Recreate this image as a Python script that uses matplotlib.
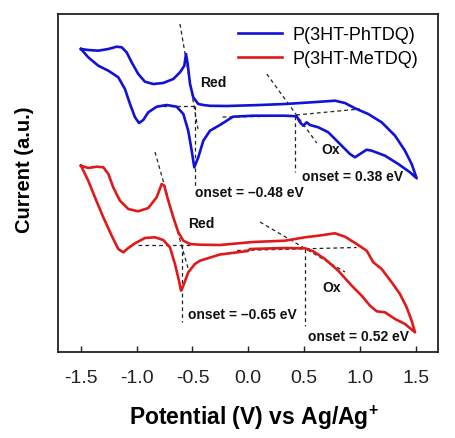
import matplotlib

matplotlib.use("Agg")
import matplotlib.pyplot as plt

plt.rcParams["font.family"] = ["Liberation Sans", "DejaVu Sans"]
plt.rcParams["mathtext.fontset"] = "custom"
plt.rcParams["mathtext.rm"] = "Liberation Sans"
plt.rcParams["mathtext.bf"] = "Liberation Sans:bold"

# P(3HT-PhTDQ): closed CV loop, forward scan then reverse scan
ph_potential = [
    -1.499, -1.434, -1.344, -1.254, -1.179, -1.134, -1.09, -1.045, -0.986, -0.926, -0.851, -0.762,
    -0.672, -0.612, -0.573, -0.558, -0.543, -0.522, -0.493, -0.448, -0.403, -0.343, -0.191, 0.105,
    0.329, 0.568, 0.777, 0.866, 0.956, 1.075, 1.195, 1.315, 1.404, 1.464, 1.509,
    1.449, 1.344, 1.225, 1.106, 1.061, 1.001, 0.956, 0.911, 0.837, 0.717, 0.627, 0.553, 0.523,
    0.493, 0.463, 0.434, 0.329, 0.042, -0.137, -0.254, -0.343, -0.403, -0.448, -0.484, -0.507,
    -0.538, -0.582, -0.642, -0.731, -0.821, -0.896, -0.941, -0.979, -1.015, -1.06, -1.105, -1.165,
    -1.254, -1.344, -1.434, -1.499,
]
ph_current = [
    30.3, 30.2, 30.13, 30.3, 30.53, 30.47, 29.97, 28.97, 27.8, 27.03, 26.8, 26.9,
    27.3, 27.97, 28.63, 29.8, 28.8, 26.8, 25.47, 24.8, 24.7, 24.62, 24.6, 24.7,
    24.8, 24.97, 25.13, 24.9, 24.37, 23.8, 22.97, 21.63, 20.13, 18.8, 17.37,
    17.97, 18.8, 19.63, 20.13, 20.23, 19.8, 19.47, 19.8, 20.63, 21.97, 22.47, 22.7, 22.97,
    22.63, 22.97, 23.57, 23.63, 23.63, 23.53, 22.7, 22.13, 21.13, 19.47, 18.47, 20.13,
    22.13, 23.8, 24.53, 24.7, 24.53, 23.97, 23.2, 22.9, 23.47, 24.8, 26.3, 27.47,
    28.13, 28.63, 29.47, 30.3,
]

# P(3HT-MeTDQ)
me_potential = [
    -1.499, -1.434, -1.358, -1.299, -1.254, -1.21, -1.15, -1.075, -0.986, -0.896, -0.821, -0.776,
    -0.753, -0.717, -0.672, -0.627, -0.582, -0.522, -0.433, -0.254, 0.042, 0.329, 0.508, 0.627,
    0.777, 0.866, 0.971, 1.061, 1.12, 1.195, 1.285, 1.359, 1.419, 1.464, 1.494,
    1.404, 1.315, 1.225, 1.151, 1.091, 1.016, 0.927, 0.806, 0.687, 0.582, 0.508, 0.329, 0.015,
    -0.003, -0.254, -0.433, -0.478, -0.538, -0.582, -0.603, -0.621, -0.657, -0.702, -0.762, -0.836,
    -0.926, -1.015, -1.075, -1.12, -1.165, -1.224, -1.299, -1.374, -1.434, -1.499,
]
me_current = [
    18.63, 18.4, 18.53, 18.47, 17.8, 16.47, 15.13, 14.3, 14.07, 14.4, 15.47, 16.8,
    16.63, 15.13, 13.47, 11.97, 11.13, 10.8, 10.73, 10.7, 11.0, 11.13, 11.47, 11.63,
    11.87, 11.53, 10.8, 10.13, 8.97, 8.3, 6.97, 5.8, 4.47, 3.13, 1.97,
    2.8, 3.3, 3.97, 4.07, 4.63, 5.63, 6.63, 8.13, 9.3, 10.07, 10.37, 10.4, 10.3,
    10.1, 9.75, 9.13, 8.8, 7.97, 6.63, 6.13, 7.13, 8.8, 10.47, 11.2, 11.47,
    11.4, 10.87, 10.4, 9.97, 10.3, 11.63, 13.47, 15.47, 17.13, 18.63,
]

# onset construction lines: (x0, x1), (y0, y1)
ph_guides = [
    ((-0.612, -0.451), (32.8, 22.3)),
    ((-0.83, -0.46), (24.6, 24.6)),
    ((-0.478, -0.478), (24.6, 16.6)),
    ((0.166, 0.614), (27.8, 20.9)),
    ((-0.23, 0.43), (23.5, 23.6)),
    ((0.43, 1.0), (23.7, 24.3)),
    ((0.418, 0.418), (23.6, 18.0)),
]
me_guides = [
    ((-0.836, -0.538), (20.0, 8.3)),
    ((-0.986, -0.52), (10.7, 10.7)),
    ((-0.597, -0.597), (10.7, 3.0)),
    ((0.105, 0.867), (13.0, 8.0)),
    ((-0.10, 0.97), (10.15, 10.45)),
    ((0.508, 0.508), (10.3, 2.6)),
]

labels = [
    (-0.433, 27.0, "Red"),
    (0.658, 20.3, "Ox"),
    (-0.478, 16.0, "onset = \u20130.48 eV"),
    (0.478, 17.6, "onset = 0.38 eV"),
    (-0.538, 12.9, "Red"),
    (0.667, 6.5, "Ox"),
    (-0.538, 3.8, "onset = \u20130.65 eV"),
    (0.535, 1.6, "onset = 0.52 eV"),
]

BLUE = "#1212d4"
RED = "#e01a1a"

fig = plt.figure(figsize=(4.55, 4.39), dpi=100)
ax = fig.add_axes([58 / 455, 1 - 353 / 439, 380 / 455, 338 / 439])

for (xs, ys) in ph_guides + me_guides:
    ax.plot(xs, ys, color="#222222", lw=0.9, ls=(0, (3, 2.5)))

ax.plot(ph_potential, ph_current, color=BLUE, lw=1.9, solid_joinstyle="round", label="P(3HT-PhTDQ)")
ax.plot(me_potential, me_current, color=RED, lw=1.9, solid_joinstyle="round", label="P(3HT-MeTDQ)")

for x, y, text in labels:
    ax.text(x, y, text, fontsize=10, fontweight="bold", ha="left", va="center", color="#111111")

ax.set_xlim(-1.705, 1.70)
ax.set_ylim(0, 33.8)
ax.set_xticks([-1.5, -1.0, -0.5, 0.0, 0.5, 1.0, 1.5])
ax.set_xticklabels(["-1.5", "-1.0", "-0.5", "0.0", "0.5", "1.0", "1.5"])
ax.set_yticks([])
ax.tick_params(axis="x", direction="in", length=4, width=1, labelsize=14, pad=12, colors="#222222")
for spine in ax.spines.values():
    spine.set_linewidth(1.3)
    spine.set_color("#222222")

ax.legend(loc="upper left", bbox_to_anchor=(238 / 455, 1 - 27 / 439), bbox_transform=fig.transFigure,
          frameon=False, fontsize=13, handlelength=2.45, handletextpad=0.55, labelspacing=0.4,
          borderpad=0, borderaxespad=0)

fig.text(254 / 455, 1 - 418 / 439, r"Potential (V) vs Ag/Ag$^{\mathbf{+}}$", fontsize=16.5,
         fontweight="bold", ha="center", va="center")
fig.text(25 / 455, 1 - 170 / 439, "Current (a.u.)", fontsize=14.5, fontweight="bold",
         rotation=90, ha="center", va="center")

fig.savefig("out.png", dpi=100)
